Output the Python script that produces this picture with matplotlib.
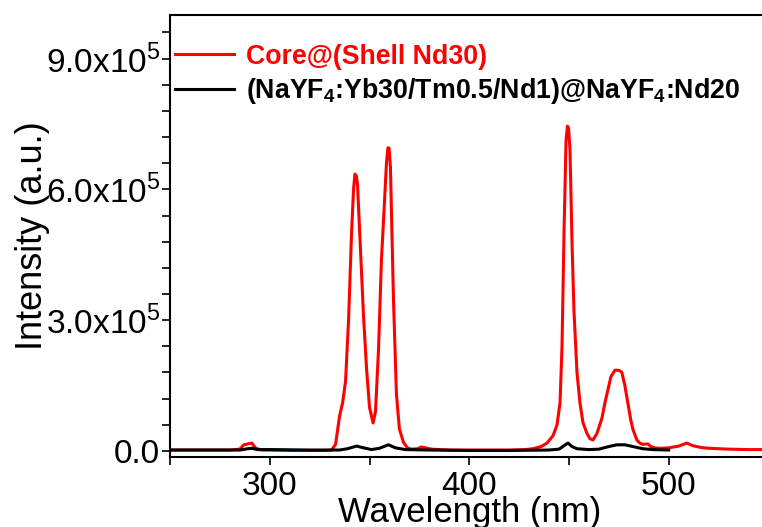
import numpy as np
import matplotlib
matplotlib.use('Agg')
import matplotlib.pyplot as plt
from matplotlib.ticker import MultipleLocator

plt.rcParams['font.family'] = 'Liberation Sans'
plt.rcParams['mathtext.fontset'] = 'custom'
plt.rcParams['mathtext.rm'] = 'Liberation Sans'
plt.rcParams['mathtext.bf'] = 'Liberation Sans:bold'

# wavelength (nm) / intensity (x1e5)
red_wl = [250, 260, 270, 280, 285, 287, 289, 291, 293, 296, 300, 310, 320, 328, 331,
          333, 335, 336.5, 338, 339.5, 341, 342, 342.7, 343.5, 344, 345.5, 347, 348.5, 350, 351.8,
          353, 354.5, 356, 357.5, 358.5, 359.2, 359.8, 360.5, 362, 363.5, 365, 367, 369, 371,
          374, 376, 378, 381, 390, 400, 410, 420, 428, 432, 436, 439, 442, 444, 445.5,
          446.5, 447.5, 448.5, 449.2, 449.8, 450.5, 451.5, 452.5, 454, 455.5, 457, 459, 460.5,
          462, 464, 466.5, 468, 469.5, 471, 473, 475, 476.5, 478, 479.5, 481, 482, 484,
          485.5, 487, 489.5, 491, 493, 496, 500, 505, 509, 512, 516, 520, 530, 540, 550]
red_int = [0.02, 0.02, 0.02, 0.02, 0.04, 0.14, 0.16, 0.18, 0.06, 0.02, 0.02, 0.01, 0.01, 0.01, 0.02,
           0.15, 0.8, 1.1, 1.6, 3.0, 5.0, 6.0, 6.35, 6.3, 6.1, 4.6, 3.1, 1.9, 1.0, 0.64,
           0.9, 2.3, 4.4, 5.7, 6.6, 6.95, 6.95, 6.5, 3.5, 1.3, 0.5, 0.2, 0.07, 0.04,
           0.05, 0.09, 0.07, 0.04, 0.02, 0.02, 0.02, 0.02, 0.03, 0.05, 0.1, 0.18, 0.35, 0.6, 1.1,
           2.4, 5.0, 7.1, 7.45, 7.4, 6.9, 4.8, 3.2, 1.8, 1.1, 0.65, 0.4, 0.28,
           0.25, 0.4, 0.75, 1.1, 1.4, 1.7, 1.85, 1.85, 1.8, 1.5, 1.1, 0.7, 0.5, 0.25,
           0.18, 0.15, 0.16, 0.1, 0.07, 0.06, 0.07, 0.11, 0.18, 0.12, 0.08, 0.06, 0.04, 0.03, 0.03]

blk_wl = [250, 270, 285, 289, 291, 294, 300, 320, 335, 339, 343.5, 347, 351, 355, 359.5,
          363, 368, 380, 400, 420, 440, 445, 447.5, 449.5, 451.5, 454, 460, 465, 470,
          474, 478, 482, 487, 492, 500]
blk_int = [0.02, 0.02, 0.02, 0.05, 0.06, 0.03, 0.03, 0.02, 0.02, 0.05, 0.11, 0.07, 0.03, 0.06, 0.14,
           0.07, 0.03, 0.02, 0.01, 0.01, 0.02, 0.04, 0.12, 0.18, 0.1, 0.05, 0.03, 0.04, 0.1,
           0.14, 0.14, 0.1, 0.05, 0.03, 0.02]

red_label = 'Core@(Shell Nd30)'
blk_label = r'(NaYF$_\mathbf{4}$:Yb30/Tm0.5/Nd1)@NaYF$_\mathbf{4}$:Nd20'

yticks = [0, 3e5, 6e5, 9e5]
yticklabels = ['0.0', r'3.0x10$^{5}$', r'6.0x10$^{5}$', r'9.0x10$^{5}$']
xticks = [300, 400, 500]

fig = plt.figure(figsize=(7.62, 5.27), dpi=100)
ax = fig.add_axes([170/762, 70/527, 598.5/762, 442/527])

ax.plot(red_wl, np.array(red_int)*1e5, color='#ff0000', lw=2.2, label=red_label)
ax.plot(blk_wl, np.array(blk_int)*1e5, color='black', lw=2.2, label=blk_label)

ax.set_xlim(250, 550)
ax.set_ylim(-0.14e5, 10e5)
ax.set_xticks(xticks)
ax.xaxis.set_minor_locator(MultipleLocator(50))
ax.set_yticks(yticks)
ax.set_yticklabels(yticklabels)
ax.yaxis.set_minor_locator(MultipleLocator(0.6e5))

ax.tick_params(axis='both', which='both', direction='out', length=6, width=1.2, labelsize=24)
ax.tick_params(axis='y', pad=1)
ax.tick_params(axis='x', pad=4)
for s in ax.spines.values():
    s.set_linewidth(1.5)

ax.set_xlabel('Wavelength (nm)', fontsize=25, labelpad=-4)
ax.set_ylabel('Intensity (a.u.)', fontsize=26, labelpad=-3)

leg = ax.legend(loc='upper left', bbox_to_anchor=(0.008, 0.935), frameon=False,
                prop={'weight': 'bold', 'size': 19.3}, handlelength=2.2,
                handletextpad=0.45, borderpad=0, borderaxespad=0, labelspacing=0.25)
for t, c in zip(leg.get_texts(), ['#ff0000', 'black']):
    t.set_color(c)

fig.savefig('out.png', dpi=100)
